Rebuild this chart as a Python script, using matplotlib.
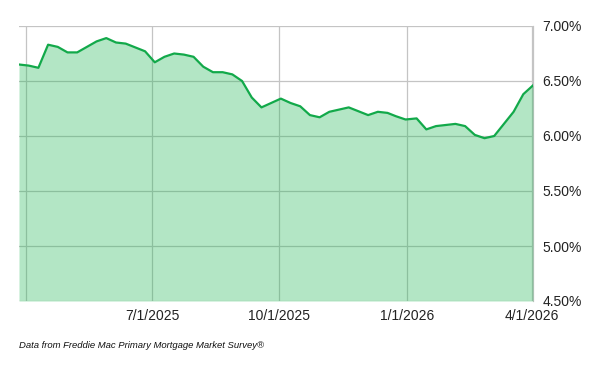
import matplotlib
matplotlib.use("Agg")
import matplotlib.pyplot as plt
import matplotlib.dates as mdates
import numpy as np
from datetime import date

dates = [
    "2025-03-27", "2025-04-03", "2025-04-10", "2025-04-17", "2025-04-24", "2025-05-01",
    "2025-05-08", "2025-05-15", "2025-05-22", "2025-05-29", "2025-06-05", "2025-06-12",
    "2025-06-18", "2025-06-26", "2025-07-03", "2025-07-10", "2025-07-17", "2025-07-24",
    "2025-07-31", "2025-08-07", "2025-08-14", "2025-08-21", "2025-08-28", "2025-09-04",
    "2025-09-11", "2025-09-18", "2025-09-25", "2025-10-02", "2025-10-09", "2025-10-16",
    "2025-10-23", "2025-10-30", "2025-11-06", "2025-11-13", "2025-11-20", "2025-11-26",
    "2025-12-04", "2025-12-11", "2025-12-18", "2025-12-24", "2025-12-31", "2026-01-08",
    "2026-01-15", "2026-01-22", "2026-01-29", "2026-02-05", "2026-02-12", "2026-02-19",
    "2026-02-26", "2026-03-05", "2026-03-12", "2026-03-19", "2026-03-26", "2026-04-02",
]
rates = [
    6.65, 6.64, 6.62, 6.83, 6.81, 6.76,
    6.76, 6.81, 6.86, 6.89, 6.85, 6.84,
    6.81, 6.77, 6.67, 6.72, 6.75, 6.74,
    6.72, 6.63, 6.58, 6.58, 6.56, 6.50,
    6.35, 6.26, 6.30, 6.34, 6.30, 6.27,
    6.19, 6.17, 6.22, 6.24, 6.26, 6.23,
    6.19, 6.22, 6.21, 6.18, 6.15, 6.16,
    6.06, 6.09, 6.10, 6.11, 6.09, 6.01,
    5.98, 6.00, 6.11, 6.22, 6.38, 6.46,
]
x_tick_dates = ["2025-04-01", "2025-07-01", "2025-10-01", "2026-01-01", "2026-04-01"]
x_tick_labels = ["", "7/1/2025", "10/1/2025", "1/1/2026", "4/1/2026"]
y_ticks = [4.5, 5.0, 5.5, 6.0, 6.5, 7.0]
y_tick_labels = ["4.50%", "5.00%", "5.50%", "6.00%", "6.50%", "7.00%"]
footnote = "Data from Freddie Mac Primary Mortgage Market Survey®"

plt.rcParams['font.family'] = ['Liberation Sans', 'DejaVu Sans']

x = np.array([np.datetime64(d) for d in dates]).astype('datetime64[D]').astype(object)
xt = np.array([np.datetime64(d) for d in x_tick_dates]).astype('datetime64[D]').astype(object)

fig = plt.figure(figsize=(6, 3.71), dpi=100)
ax = fig.add_axes([19/600, 70/371, 514/600, 275/371])

ax.fill_between(x, rates, 4.5, color=(38/255, 184/255, 89/255), alpha=0.35, lw=0, zorder=2)
ax.plot(x, rates, color='#12a94a', lw=1.6, zorder=3)

ax.set_xlim(x[0], x[-1])
ax.set_ylim(4.5, 7.0)
ax.set_xticks(xt)
ax.set_xticklabels(x_tick_labels)
ax.set_yticks(y_ticks)
ax.set_yticklabels(y_tick_labels)
ax.yaxis.tick_right()
ax.tick_params(axis='both', length=0, labelsize=10, colors='#222222')
ax.tick_params(axis='y', pad=7)
ax.tick_params(axis='x', pad=6)
ax.grid(True, color='#c4c4c4', lw=0.9, zorder=1)
ax.set_axisbelow(True)
for s in ['left', 'top', 'bottom']:
    ax.spines[s].set_visible(False)
ax.spines['right'].set_color('#c4c4c4')
ax.spines['right'].set_linewidth(0.9)
ax.spines['right'].set_zorder(1)

fig.text(19/600, 1 - 346/371, footnote, fontsize=6.8, style='italic', va='center', ha='left', color='#111111')

fig.savefig("out.png", dpi=100)
